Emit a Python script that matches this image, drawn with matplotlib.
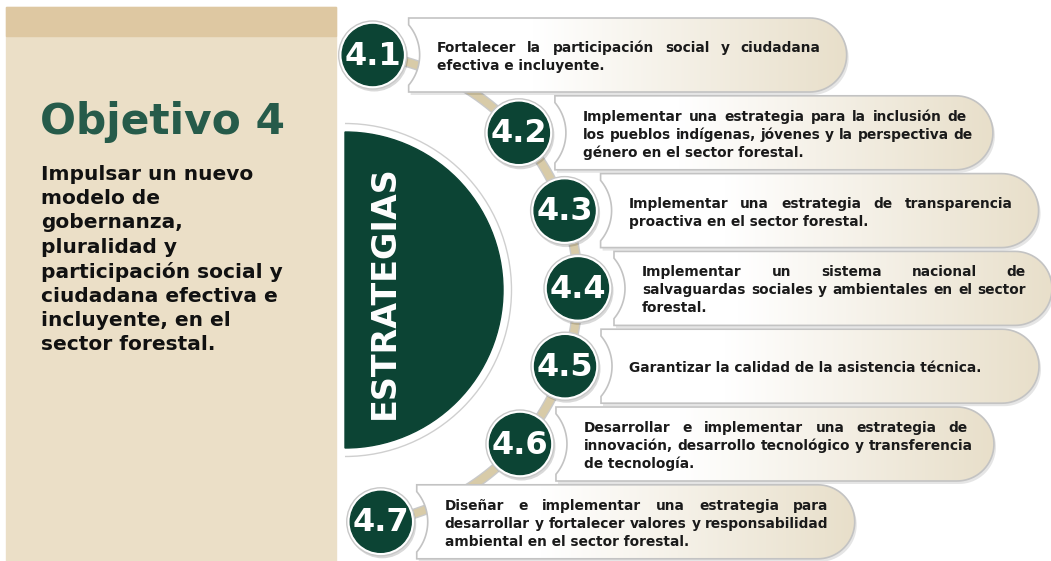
import numpy as np
import matplotlib
matplotlib.use("Agg")
import matplotlib.pyplot as plt
from matplotlib.patches import Polygon, Circle, Wedge, Arc, Rectangle
from matplotlib.colors import LinearSegmentedColormap

# Contenido
titulo = "Objetivo 4"
descripcion = ["Impulsar un nuevo", "modelo de", "gobernanza,", "pluralidad y",
               "participación social y", "ciudadana efectiva e",
               "incluyente, en el", "sector forestal."]
etiqueta_centro = "ESTRATEGIAS"
codigos = ["4.1", "4.2", "4.3", "4.4", "4.5", "4.6", "4.7"]
estrategias = [
    ["Fortalecer la participación social y ciudadana",
     "efectiva e incluyente."],
    ["Implementar una estrategia para la inclusión de",
     "los pueblos indígenas, jóvenes y la perspectiva de",
     "género en el sector forestal."],
    ["Implementar una estrategia de transparencia",
     "proactiva en el sector forestal."],
    ["Implementar un sistema nacional de",
     "salvaguardas sociales y ambientales en el sector",
     "forestal."],
    ["Garantizar la calidad de la asistencia técnica."],
    ["Desarrollar e implementar una estrategia de",
     "innovación, desarrollo tecnológico y transferencia",
     "de tecnología."],
    ["Diseñar e implementar una estrategia para",
     "desarrollar y fortalecer valores y responsabilidad",
     "ambiental en el sector forestal."],
]

verde = "#0c4434"
verde_titulo = "#265b4a"
beige = "#ebdfc7"
beige_osc = "#dec8a2"
tan = "#d8cba8"

W, H = 1051, 561
fig = plt.figure(figsize=(W / 100, H / 100), dpi=100)
ax = fig.add_axes([0, 0, 1, 1])
ax.set_xlim(0, W)
ax.set_ylim(H, 0)
ax.axis("off")
renderer = fig.canvas.get_renderer()

# Panel izquierdo
ax.add_patch(Rectangle((6, 7), 330, H - 7, color=beige, zorder=1))
ax.add_patch(Rectangle((6, 7), 330, 29, color=beige_osc, zorder=1))
ax.text(40, 122, titulo, fontsize=30.5, fontweight="bold", color=verde_titulo,
        va="center", ha="left", zorder=2)
for i, linea in enumerate(descripcion):
    ax.text(41, 174 + 24.4 * i, linea, fontsize=14.5, fontweight="bold",
            color="#111111", va="center", ha="left", zorder=2)

# Semicirculo central
cxc, cyc = 345, 290
ax.add_patch(Wedge((cxc, cyc), 166, -90, 90, color="white", zorder=2))
ax.add_patch(Arc((cxc, cyc), 333, 333, theta1=-90, theta2=90,
                 color="#cfcfcf", lw=1, zorder=2))
ax.add_patch(Wedge((cxc, cyc), 158, -90, 90, color=verde, zorder=3))
ax.text(384, cyc + 2, etiqueta_centro, fontsize=24, fontweight="bold",
        color="white", rotation=90, va="center", ha="center", zorder=4)

# Posiciones sobre el arco
ac, ay, R = 342, 289, 236
n = len(codigos)
ys = 55 + 77.8 * np.arange(n)
xs = ac + np.sqrt(R ** 2 - (ys - ay) ** 2)

ang = np.linspace(np.arctan2(ys[0] - ay, xs[0] - ac),
                  np.arctan2(ys[-1] - ay, xs[-1] - ac), 200)
ax.plot(ac + R * np.cos(ang), ay + R * np.sin(ang), color="#c9c9c9",
        lw=7.5, solid_capstyle="butt", zorder=2)
ax.plot(ac + R * np.cos(ang), ay + R * np.sin(ang), color=tan,
        lw=5.5, solid_capstyle="butt", zorder=2)

cmap = LinearSegmentedColormap.from_list(
    "caja", [(0, "#ffffff"), (0.3, "#ffffff"), (1, "#e8dfca")])
grad = np.linspace(0, 1, 256).reshape(1, -1)


def caja(x0, yc, w, h, cx, rn):
    r = h / 2
    y0, y1 = yc - r, yc + r
    xr = x0 + w - r
    pts = [(x0, y0), (xr, y0)]
    for a in np.linspace(-np.pi / 2, np.pi / 2, 40):
        pts.append((xr + r * np.cos(a), yc + r * np.sin(a)))
    pts.append((x0, y1))
    dy = np.sqrt(rn ** 2 - (x0 - cx) ** 2)
    lim = np.arcsin(dy / rn)
    for a in np.linspace(lim, -lim, 30):
        pts.append((cx + rn * np.cos(a), yc + rn * np.sin(a)))
    return pts


def ancho(txt, fs):
    t = ax.text(0, 0, txt, fontsize=fs, fontweight="bold")
    bb = t.get_window_extent(renderer)
    t.remove()
    return bb.width


fs = 9.9
lh = 18
bw, bh = 438, 74
for i in range(n):
    cx, cy = xs[i], ys[i]
    x0 = cx + 36
    pts = caja(x0, cy, bw, bh, cx, 47)
    sombra = Polygon([(p[0] + 2, p[1] + 3) for p in pts], closed=True,
                     color="black", alpha=0.10, lw=0, zorder=4)
    ax.add_patch(sombra)
    poly = Polygon(pts, closed=True, facecolor="none", edgecolor="#c3c3c3",
                   lw=1.2, zorder=6)
    ax.add_patch(poly)
    im = ax.imshow(grad, cmap=cmap, aspect="auto", zorder=5,
                   extent=(x0 - 10, x0 + bw, cy + bh / 2, cy - bh / 2))
    im.set_clip_path(poly)

    # texto justificado
    lineas = estrategias[i]
    tx = x0 + 28
    tw = 384
    ytop = cy + 2 - lh * (len(lineas) - 1) / 2
    for k, linea in enumerate(lineas):
        y = ytop + k * lh
        if k == len(lineas) - 1:
            ax.text(tx, y, linea, fontsize=fs, fontweight="bold",
                    color="#1a1a1a", va="center", ha="left", zorder=7)
            continue
        palabras = linea.split()
        anchos = [ancho(p, fs) for p in palabras]
        esp = ancho("a a", fs) - 2 * ancho("a", fs)
        hueco = max((tw - sum(anchos)) / (len(palabras) - 1), esp)
        xx = tx
        for p, a in zip(palabras, anchos):
            ax.text(xx, y, p, fontsize=fs, fontweight="bold",
                    color="#1a1a1a", va="center", ha="left", zorder=7)
            xx += a + hueco

    # circulo numerado
    ax.add_patch(Circle((cx + 1.5, cy + 2.5), 34, color="black", alpha=0.15,
                        lw=0, zorder=7))
    ax.add_patch(Circle((cx, cy), 34, facecolor="white", edgecolor="#c8c8c8",
                        lw=1, zorder=8))
    ax.add_patch(Circle((cx, cy), 30.5, color=verde, zorder=9))
    ax.text(cx, cy + 1, codigos[i], fontsize=23, fontweight="bold",
            color="white", va="center", ha="center", zorder=10)

fig.savefig("out.png", dpi=100)
